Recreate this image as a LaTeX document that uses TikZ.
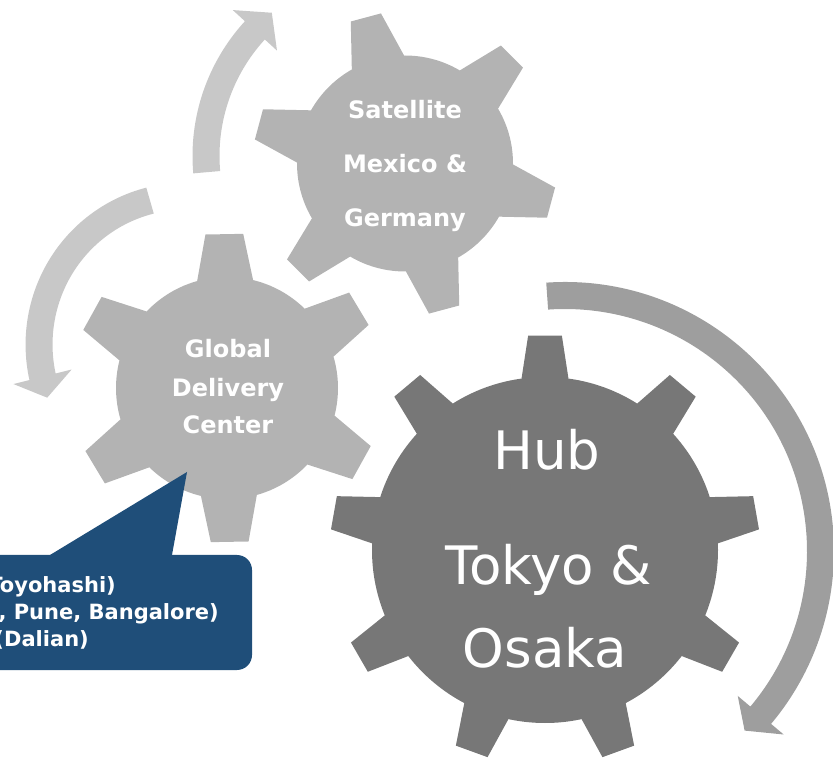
\documentclass[tikz,border=0pt]{standalone}
\usepackage{fontspec}
\setmainfont{DejaVu Sans}
\definecolor{gearlight}{HTML}{B3B3B3}
\definecolor{geardark}{HTML}{777777}
\definecolor{arrowlight}{HTML}{C8C8C8}
\definecolor{arrowdark}{HTML}{9E9E9E}
\definecolor{callout}{HTML}{1F4E79}
\tikzset{
  gtext/.style={text=white, inner sep=0pt, anchor=base, font=\fontsize{24}{28}\selectfont\bfseries},
  htext/.style={text=white, inner sep=0pt, anchor=base, font=\fontsize{53}{60}\selectfont},
  ctext/.style={text=white, inner sep=0pt, anchor=base east, font=\fontsize{21}{25}\selectfont\bfseries},
}
\begin{document}
\begin{tikzpicture}[x=1pt,y=1pt]
\useasboundingbox (0,0) rectangle (833,761);
\clip (0,0) rectangle (833,761);

% ---- curved arrows ----
\fill[arrowlight, shift={(392,605)}]
  (185:199.5) arc[start angle=185, end angle=137.5, radius=199.5]
  -- (137.5:216) -- (130:187) -- (137.5:156) -- (137.5:172.5)
  arc[start angle=137.5, end angle=185, radius=172.5] -- cycle;

\fill[arrowlight, shift={(190,421)}]
  plot[domain=106:194, samples=60] ({\x}:{145+7*(\x-106)/88+13.5})
  -- (194:182) -- (202:154) -- (194:122)
  -- plot[domain=194:106, samples=60] ({\x}:{145+7*(\x-106)/88-13.5}) -- cycle;

\fill[arrowdark, shift={(565,210)}]
  (94:269) arc[start angle=94, end angle=-40, radius=269]
  -- (-40:285.5) -- (-45:254) -- (-40:225.5) -- (-40:242)
  arc[start angle=-40, end angle=94, radius=242] -- cycle;

% ---- Hub gear ----
\fill[geardark] (545,211) circle[radius=173];
\foreach \a in {90,130,...,410}
  \fill[geardark, shift={(545,211)}] (\a-7.8:173) -- (\a-4.5:215) -- (\a+4.5:215) -- (\a+7.8:173) -- (\a:150) -- cycle;

% ---- Satellite gear ----
\fill[gearlight] (405,597.5) circle[radius=108];
\foreach \a in {45,105,...,345}
  \fill[gearlight, shift={(405,597.5)}] (\a-14.5:108) -- (\a-5.9:152) -- (\a+5.9:152) -- (\a+14.5:108) -- (\a:90) -- cycle;

% ---- Global Delivery Center gear ----
\fill[gearlight] (227,373) circle[radius=111];
\foreach \a in {31,91,...,331}
  \fill[gearlight, shift={(227,373)}] (\a-14.6:111) -- (\a-7:155) -- (\a+7:155) -- (\a+14.6:111) -- (\a:90) -- cycle;

% ---- callout ----
\fill[callout, rounded corners=15pt] (-40,91) rectangle (252,206);
\fill[callout] (50,206) -- (187,289) -- (172,206) -- (172,198) -- (50,198) -- cycle;

% ---- texts ----
\node[gtext] (sat1) at (405,642) {Satellite};
\node[gtext] (sat2) at (405,588) {Mexico \&};
\node[gtext] (sat3) at (405,534) {Germany};

\node[gtext] (gdc1) at (228,403) {Global};
\node[gtext] (gdc2) at (228,364) {Delivery};
\node[gtext] (gdc3) at (228,327) {Center};

\node[htext] (hub1) at (547,291) {Hub};
\node[htext] (hub2) at (549,176) {Tokyo \&};
\node[htext] (hub3) at (545,93) {Osaka};

\node[ctext] (co1) at (116,168) {Toyohashi)};
\node[ctext] (co2) at (219,141) {, Pune, Bangalore)};
\node[ctext] (co3) at (89,114) {(Dalian)};
\end{tikzpicture}
\end{document}
